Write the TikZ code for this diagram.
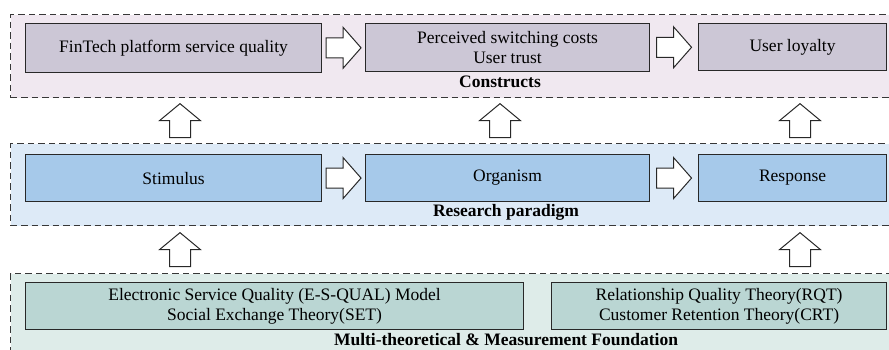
\documentclass[tikz,border=0pt]{standalone}
\usepackage{fontspec}
\setmainfont{Liberation Serif}
\usetikzlibrary{calc}
\definecolor{bgA}{RGB}{240,232,240}
\definecolor{boxA}{RGB}{204,199,214}
\definecolor{bgB}{RGB}{221,234,247}
\definecolor{boxB}{RGB}{166,201,234}
\definecolor{bgC}{RGB}{222,236,233}
\definecolor{boxC}{RGB}{186,214,211}
\definecolor{edge}{RGB}{40,40,40}
\definecolor{dashc}{RGB}{55,55,55}
\tikzset{
  frame/.style={draw=dashc, dash pattern=on 6.5pt off 4pt, line width=1.3pt, anchor=north west, inner sep=0pt},
  cbox/.style={draw=edge, line width=1.1pt, anchor=north west, inner sep=0pt, align=center,
    font=\fontsize{17.5}{20}\selectfont},
  flabel/.style={font=\fontsize{17.5}{20}\selectfont\bfseries, anchor=base, inner sep=0pt},
  blockarrow/.style={draw=edge, fill=white, line width=1pt, line join=miter},
}
\newcommand{\harrow}[2]{%
  \draw[blockarrow, shift={($(#1.east)!0.5!(#2.west)$)}]
    (-17.5,-10) -- (-0.5,-10) -- (-0.5,-20.5) -- (17.5,0) -- (-0.5,20.5) -- (-0.5,10) -- (-17.5,10) -- cycle;}
\newcommand{\uarrow}[3]{%
  \coordinate (mid) at ($(#2.south)!0.5!(#3.north)$);
  \draw[blockarrow, shift={(#1,0 |- mid)}]
    (-10.5,17) -- (-10.5,0) -- (-20.5,0) -- (0,-17) -- (20.5,0) -- (10.5,0) -- (10.5,17) -- cycle;}
\begin{document}
\begin{tikzpicture}[x=1pt,y=-1pt]
\useasboundingbox (0,0) rectangle (889,349);
\clip (0,0) rectangle (889,349);
\fill[white] (0,0) rectangle (889,349);
% frames
\node[frame, fill=bgA, minimum width=900pt, minimum height=83pt] (fA) at (10,14) {};
\node[frame, fill=bgB, minimum width=900pt, minimum height=82pt] (fB) at (10,143) {};
\node[frame, fill=bgC, minimum width=900pt, minimum height=90pt] (fC) at (10,273) {};
% constructs
\node[cbox, fill=boxA, minimum width=296pt, minimum height=49pt] (a1) at (25,23) {FinTech platform service quality};
\node[cbox, fill=boxA, minimum width=284pt, minimum height=48pt] (a2) at (365,23) {Perceived switching costs\\User trust};
\node[cbox, fill=boxA, minimum width=188pt, minimum height=47pt] (a3) at (698,23) {User loyalty};
\node[flabel] (la) at (500,87) {Constructs};
% paradigm
\node[cbox, fill=boxB, minimum width=296pt, minimum height=47pt] (b1) at (25,154) {Stimulus};
\node[cbox, fill=boxB, minimum width=284pt, minimum height=47pt] (b2) at (365,154) {Organism};
\node[cbox, fill=boxB, minimum width=188pt, minimum height=47pt] (b3) at (698,154) {Response};
\node[flabel] (lb) at (506,216) {Research paradigm};
% foundation
\node[cbox, fill=boxC, minimum width=498pt, minimum height=47pt] (c1) at (25,282) {Electronic Service Quality (E-S-QUAL) Model\\Social Exchange Theory(SET)};
\node[cbox, fill=boxC, minimum width=335pt, minimum height=47pt] (c2) at (551,282) {Relationship Quality Theory(RQT)\\Customer Retention Theory(CRT)};
\node[flabel] (lc) at (506,345) {Multi-theoretical \& Measurement Foundation};
% horizontal block arrows
\harrow{a1}{a2}
\harrow{a2}{a3}
\harrow{b1}{b2}
\harrow{b2}{b3}
% vertical block arrows
\uarrow{180}{fA}{fB}
\uarrow{500}{fA}{fB}
\uarrow{800}{fA}{fB}
\uarrow{180}{fB}{fC}
\uarrow{800}{fB}{fC}
\end{tikzpicture}
\end{document}
